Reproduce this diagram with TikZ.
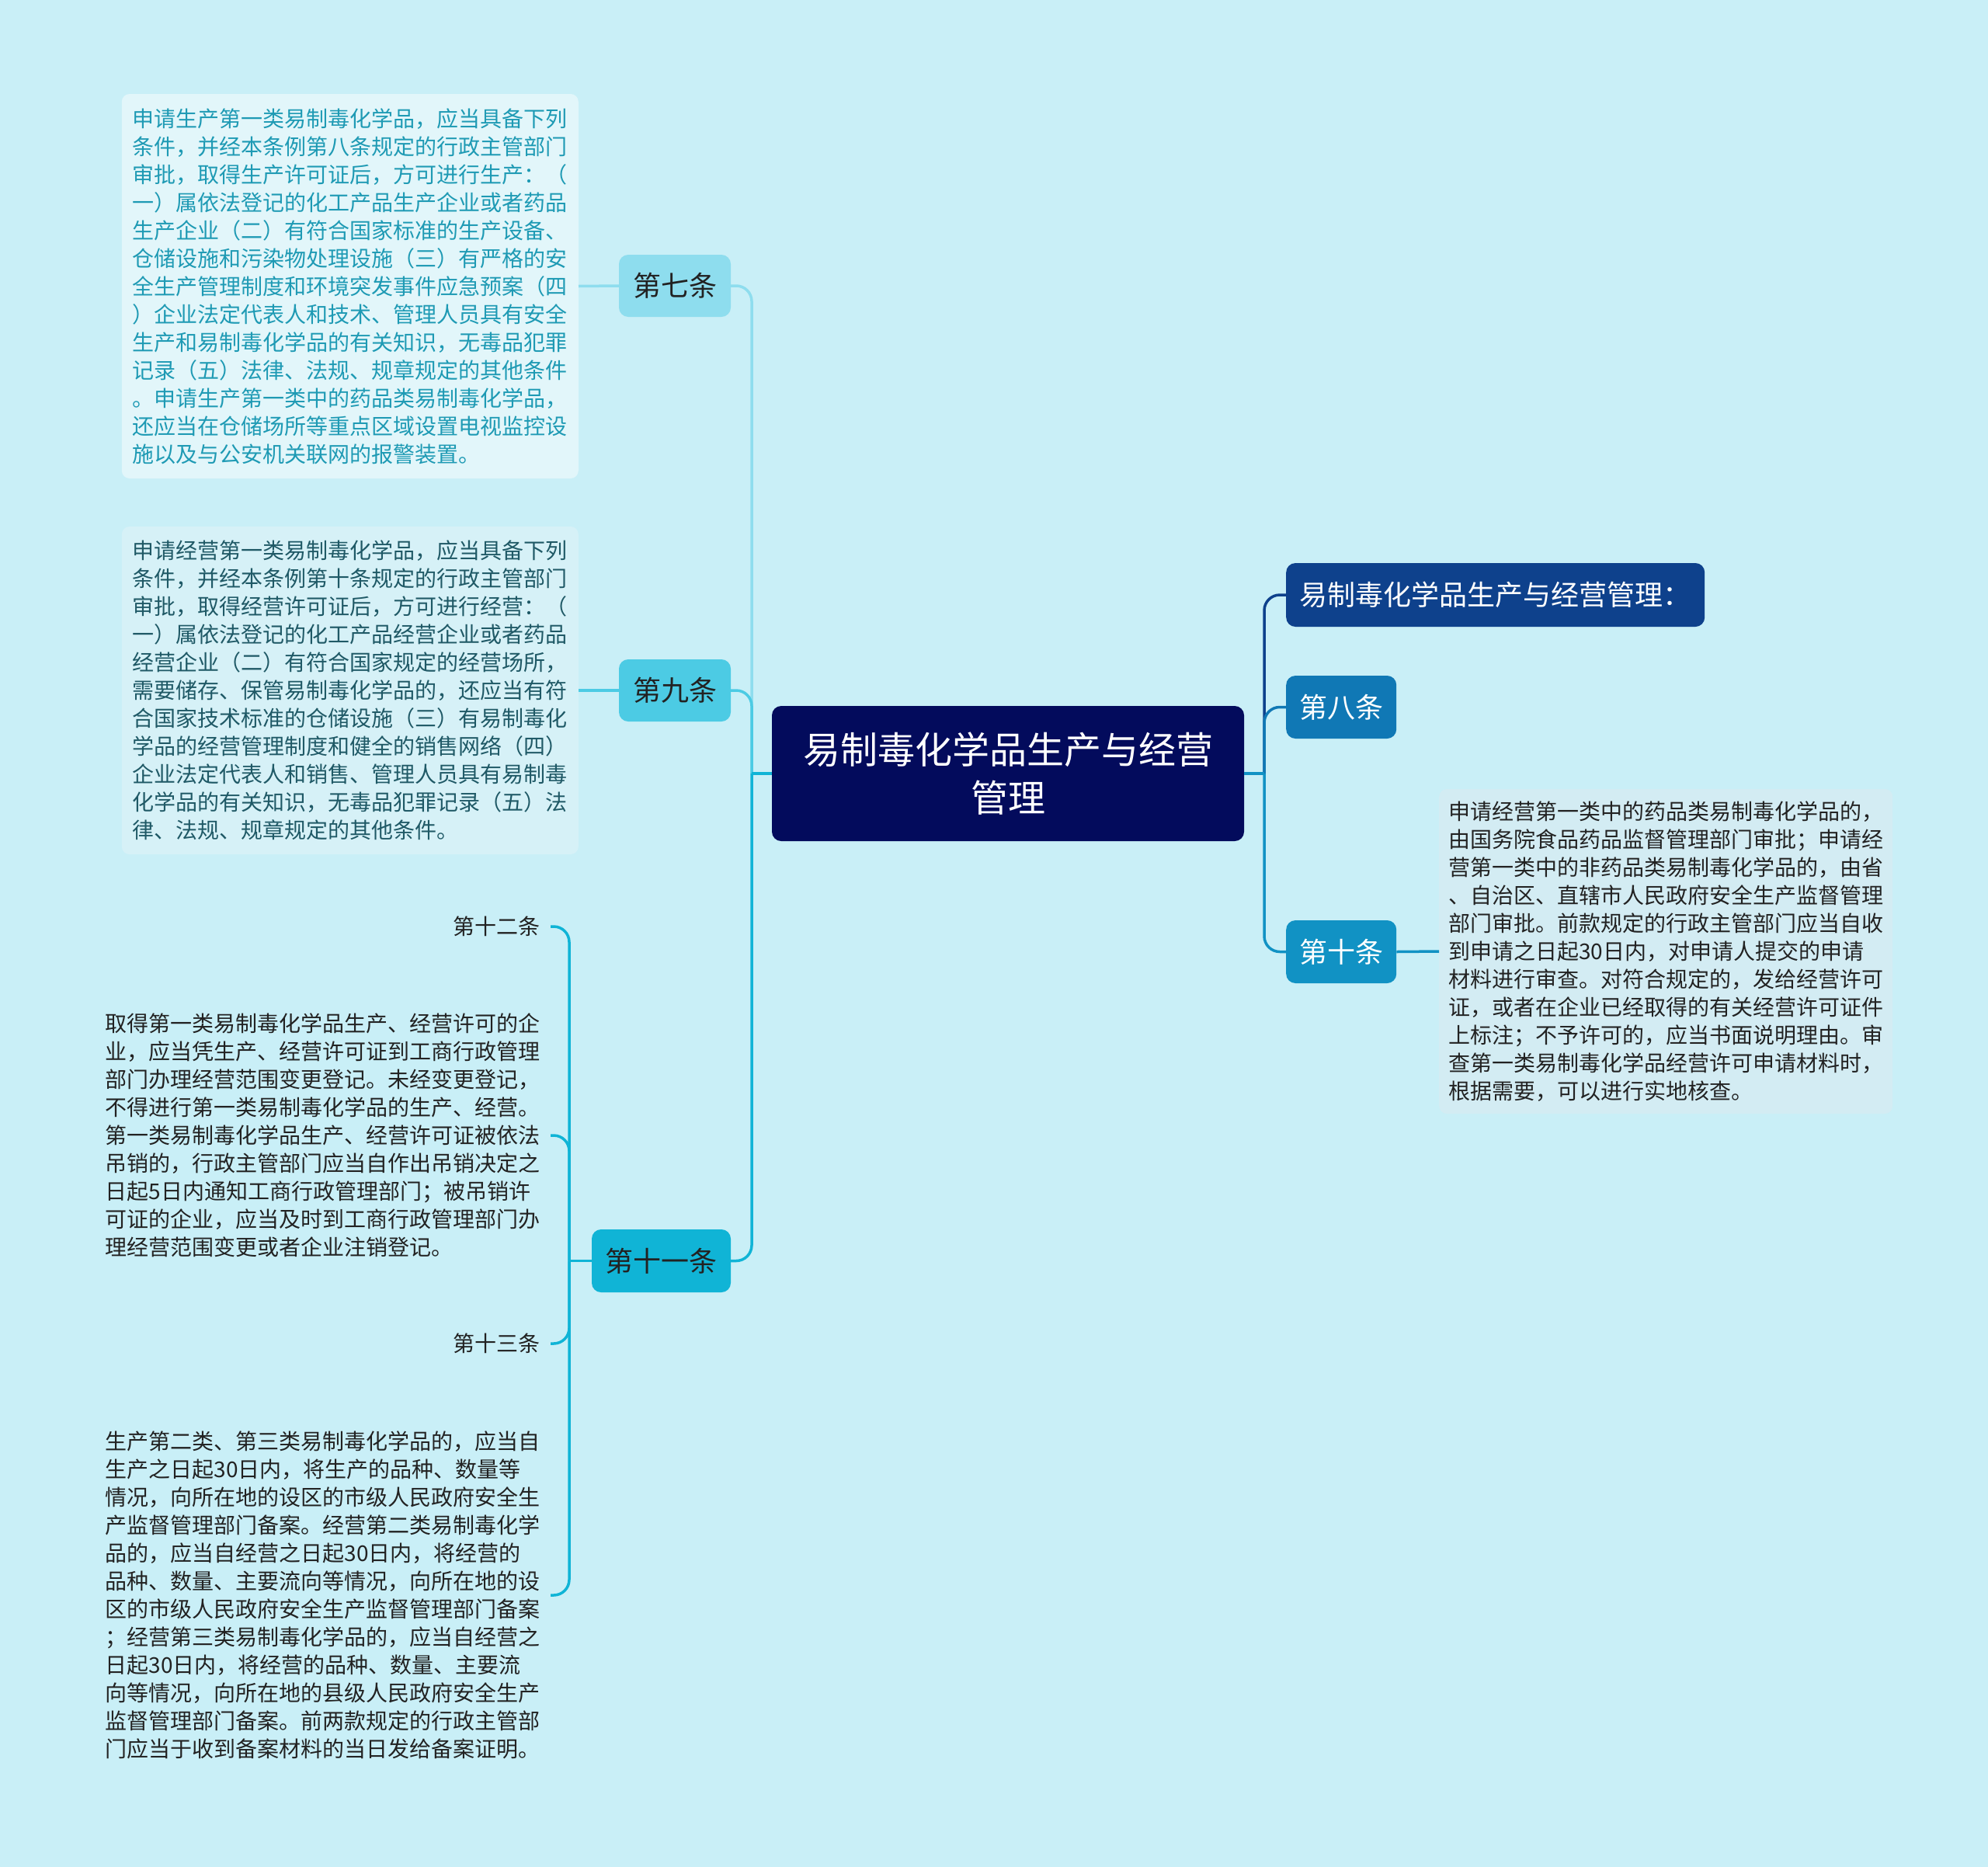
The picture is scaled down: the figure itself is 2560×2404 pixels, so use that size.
\documentclass[tikz,border=0pt]{standalone}
\usepackage{fontspec}
\setmainfont{Noto Sans CJK SC}
\definecolor{bg}{HTML}{C9EFF7}
\definecolor{cnav}{HTML}{030B5C}
\definecolor{ctitle}{HTML}{0E418C}
\definecolor{ceight}{HTML}{1078B5}
\definecolor{cten}{HTML}{1192C4}
\definecolor{cseven}{HTML}{8EDDEE}
\definecolor{cnine}{HTML}{4CCBE4}
\definecolor{celeven}{HTML}{10B4D6}
\definecolor{fseven}{HTML}{E2F6FA}
\definecolor{tseven}{HTML}{1E9AB4}
\definecolor{fnine}{HTML}{D6F1F7}
\definecolor{tnine}{HTML}{1F5966}
\definecolor{fright}{HTML}{D3ECF3}
\definecolor{tdark}{HTML}{222222}
\begin{document}
\begin{tikzpicture}[x=1pt,y=-1pt,
  box/.style={rounded corners=12pt, inner sep=0pt, align=center},
  bigtxt/.style={font=\fontsize{48}{62}\selectfont},
  midtxt/.style={font=\fontsize{36}{44}\selectfont},
  bodytxt/.style={font=\fontsize{28}{36}\selectfont, align=left, text width=560pt},
  tbox/.style={rounded corners=10pt, inner ysep=0pt, bodytxt},
  link/.style={line width=3.5pt},
  elbow/.style={link, rounded corners=20pt}
]
\useasboundingbox (0,0) rectangle (2560,2404);
\fill[bg] (0,0) rectangle (2560,2404);

% central
\node[box, fill=cnav, text=white, minimum width=608pt, minimum height=174pt, bigtxt] (c) at (1298,996) {易制毒化学品生产与经营\\管理};

% right side
\node[box, fill=ctitle, text=white, minimum width=539pt, minimum height=82pt, midtxt, anchor=west] (t) at (1656,766) {易制毒化学品生产与经营管理：};
\node[box, fill=ceight, text=white, minimum width=142pt, minimum height=81pt, midtxt, anchor=west] (n8) at (1656,910.5) {第八条};
\node[box, fill=cten, text=white, minimum width=142pt, minimum height=81pt, midtxt, anchor=west] (n10) at (1656,1225.5) {第十条};
\node[tbox, fill=fright, text=tdark, inner xsep=12pt, minimum height=418pt, anchor=west] (tR) at (1853,1225) {申请经营第一类中的药品类易制毒化学品的，\\由国务院食品药品监督管理部门审批；申请经\\营第一类中的非药品类易制毒化学品的，由省\\、自治区、直辖市人民政府安全生产监督管理\\部门审批。前款规定的行政主管部门应当自收\\到申请之日起30日内，对申请人提交的申请\\材料进行审查。对符合规定的，发给经营许可\\证，或者在企业已经取得的有关经营许可证件\\上标注；不予许可的，应当书面说明理由。审\\查第一类易制毒化学品经营许可申请材料时，\\根据需要，可以进行实地核查。};

% left side
\node[box, fill=cseven, text=tdark, minimum width=144pt, minimum height=80pt, midtxt] (n7) at (869,368) {第七条};
\node[tbox, fill=fseven, text=tseven, inner xsep=14pt, minimum height=495pt, anchor=east] (t7) at (745,368.5) {申请生产第一类易制毒化学品，应当具备下列\\条件，并经本条例第八条规定的行政主管部门\\审批，取得生产许可证后，方可进行生产：（\\一）属依法登记的化工产品生产企业或者药品\\生产企业（二）有符合国家标准的生产设备、\\仓储设施和污染物处理设施（三）有严格的安\\全生产管理制度和环境突发事件应急预案（四\\）企业法定代表人和技术、管理人员具有安全\\生产和易制毒化学品的有关知识，无毒品犯罪\\记录（五）法律、法规、规章规定的其他条件\\。申请生产第一类中的药品类易制毒化学品，\\还应当在仓储场所等重点区域设置电视监控设\\施以及与公安机关联网的报警装置。};

\node[box, fill=cnine, text=tdark, minimum width=144pt, minimum height=80pt, midtxt] (n9) at (869,889) {第九条};
\node[tbox, fill=fnine, text=tnine, inner xsep=14pt, minimum height=422pt, anchor=east] (t9) at (745,889) {申请经营第一类易制毒化学品，应当具备下列\\条件，并经本条例第十条规定的行政主管部门\\审批，取得经营许可证后，方可进行经营：（\\一）属依法登记的化工产品经营企业或者药品\\经营企业（二）有符合国家规定的经营场所，\\需要储存、保管易制毒化学品的，还应当有符\\合国家技术标准的仓储设施（三）有易制毒化\\学品的经营管理制度和健全的销售网络（四）\\企业法定代表人和销售、管理人员具有易制毒\\化学品的有关知识，无毒品犯罪记录（五）法\\律、法规、规章规定的其他条件。};

\node[box, fill=celeven, text=tdark, minimum width=179pt, minimum height=81pt, midtxt] (n11) at (851.5,1623.5) {第十一条};

\node[font=\fontsize{28}{36}\selectfont, text=tdark, inner xsep=13pt, inner ysep=0pt, anchor=east] (n12) at (709,1193) {第十二条};
\node[bodytxt, text=tdark, inner xsep=13pt, inner ysep=0pt, anchor=east] (t11) at (709,1462) {取得第一类易制毒化学品生产、经营许可的企\\业，应当凭生产、经营许可证到工商行政管理\\部门办理经营范围变更登记。未经变更登记，\\不得进行第一类易制毒化学品的生产、经营。\\第一类易制毒化学品生产、经营许可证被依法\\吊销的，行政主管部门应当自作出吊销决定之\\日起5日内通知工商行政管理部门；被吊销许\\可证的企业，应当及时到工商行政管理部门办\\理经营范围变更或者企业注销登记。};
\node[font=\fontsize{28}{36}\selectfont, text=tdark, inner xsep=13pt, inner ysep=0pt, anchor=east] (n13) at (709,1730) {第十三条};
\node[bodytxt, text=tdark, inner xsep=13pt, inner ysep=0pt, anchor=east] (t13) at (709,2054) {生产第二类、第三类易制毒化学品的，应当自\\生产之日起30日内，将生产的品种、数量等\\情况，向所在地的设区的市级人民政府安全生\\产监督管理部门备案。经营第二类易制毒化学\\品的，应当自经营之日起30日内，将经营的\\品种、数量、主要流向等情况，向所在地的设\\区的市级人民政府安全生产监督管理部门备案\\；经营第三类易制毒化学品的，应当自经营之\\日起30日内，将经营的品种、数量、主要流\\向等情况，向所在地的县级人民政府安全生产\\监督管理部门备案。前两款规定的行政主管部\\门应当于收到备案材料的当日发给备案证明。};

% junctions
\coordinate (Lj) at (968,996);
\coordinate (Rj) at (1628,996);
\coordinate (Kj) at (733,1623.5);

% left connectors
\draw[elbow, cseven] (Lj) |- (n7.east);
\draw[elbow, cnine] (Lj) |- (n9.east);
\draw[elbow, celeven] (Lj) |- (n11.east);
\draw[link, celeven] (c.west) -- (Lj);
\draw[link, cseven] (n7.west) -- (t7.east);
\draw[link, cnine] (n9.west) -- (t9.east);

% right connectors
\draw[elbow, ctitle] (Rj) |- (t.west);
\draw[elbow, ceight] (Rj) |- (n8.west);
\draw[elbow, cten] (Rj) |- (n10.west);
\draw[link, cten] (c.east) -- (Rj);
\draw[link, cten] (n10.east) -- (tR.west);

% eleventh children
\draw[link, celeven] (n11.west) -- (Kj);
\draw[elbow, celeven] (Kj) |- (n12.east);
\draw[elbow, celeven] (Kj) |- (t11.east);
\draw[elbow, celeven] (Kj) |- (n13.east);
\draw[elbow, celeven] (Kj) |- (t13.east);
\end{tikzpicture}
\end{document}
